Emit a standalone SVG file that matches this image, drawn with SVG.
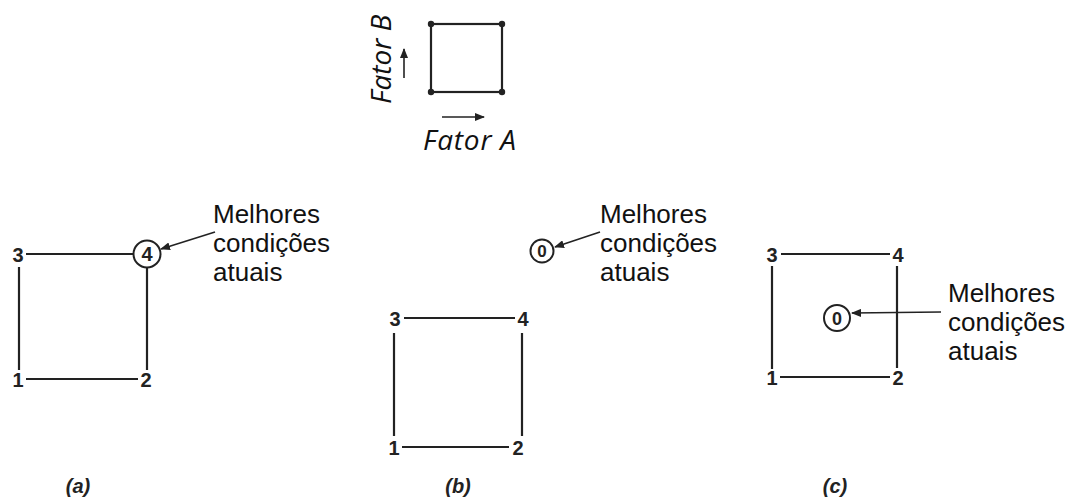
<svg xmlns="http://www.w3.org/2000/svg" width="1082" height="498" viewBox="0 0 1082 498">
<style>
.ln{stroke:#222;stroke-width:2.2;fill:none}
.thin{stroke:#222;stroke-width:1.6;fill:none}
.num{font-family:"Liberation Sans",Arial,sans-serif;font-weight:bold;font-size:20px;fill:#222;text-anchor:middle}
.lab{font-family:"Liberation Sans",Arial,sans-serif;font-size:26px;fill:#111}
.fat{font-family:"Open Sans","DejaVu Sans",sans-serif;font-style:italic;font-size:28px;fill:#111}
.cap{font-family:"Liberation Sans",Arial,sans-serif;font-weight:bold;font-style:italic;font-size:20px;fill:#222;text-anchor:middle}
.circ{stroke:#222;stroke-width:2;fill:#fff}
</style>
<defs>
<marker id="ah" markerWidth="10" markerHeight="8" refX="9" refY="4" orient="auto" markerUnits="userSpaceOnUse">
<path d="M0,0 L10,4 L0,8 z" fill="#222"/>
</marker>
</defs>
<rect width="1082" height="498" fill="#fff"/>

<g id="legend">
<rect x="431" y="24" width="71" height="68" class="ln"/>
<circle cx="431" cy="24" r="3.2" fill="#222"/>
<circle cx="502" cy="24" r="3.2" fill="#222"/>
<circle cx="431" cy="92" r="3.2" fill="#222"/>
<circle cx="502" cy="92" r="3.2" fill="#222"/>
<text class="fat" transform="translate(391,104) rotate(-90)">Fator B</text>
<text class="fat" x="423" y="150" textLength="93">Fator A</text>
</g>

<g id="panel-a">
<text class="num" x="18" y="262">3</text>
<text class="num" x="18" y="387">1</text>
<text class="num" x="146" y="387">2</text>
<circle class="circ" cx="147" cy="254" r="13.5"/>
<text class="num" x="147" y="261">4</text>
<text class="lab" x="213" y="223">Melhores</text>
<text class="lab" x="213" y="252">condições</text>
<text class="lab" x="213" y="281">atuais</text>
<text class="cap" x="78" y="493">(a)</text>
</g>

<g id="panel-b">
<text class="num" x="395" y="326">3</text>
<text class="num" x="523" y="326">4</text>
<text class="num" x="394" y="455">1</text>
<text class="num" x="518" y="455">2</text>
<circle class="circ" cx="542" cy="251" r="11.5"/>
<text class="num" x="542" y="257" style="font-size:17px">0</text>
<text class="lab" x="600" y="223">Melhores</text>
<text class="lab" x="600" y="252">condições</text>
<text class="lab" x="600" y="281">atuais</text>
<text class="cap" x="458" y="493">(b)</text>
</g>

<g id="panel-c">
<text class="num" x="772" y="262">3</text>
<text class="num" x="898" y="262">4</text>
<text class="num" x="772" y="385">1</text>
<text class="num" x="898" y="385">2</text>
<circle class="circ" cx="837" cy="318" r="13"/>
<text class="num" x="837" y="324.5" style="font-size:18px">0</text>
<text class="lab" x="948" y="302">Melhores</text>
<text class="lab" x="948" y="331">condições</text>
<text class="lab" x="948" y="360">atuais</text>
<text class="cap" x="835" y="493">(c)</text>
</g>

<g id="connectors">
<line class="thin" x1="404" y1="78" x2="404" y2="49" marker-end="url(#ah)"/>
<line class="thin" x1="442" y1="117" x2="484" y2="117" marker-end="url(#ah)"/>
<line class="ln" x1="26" y1="254" x2="133" y2="254"/>
<line class="ln" x1="19" y1="267" x2="19" y2="370"/>
<line class="ln" x1="147" y1="268" x2="147" y2="370"/>
<line class="ln" x1="26" y1="379" x2="138" y2="379"/>
<line class="thin" x1="215" y1="232" x2="161" y2="249" marker-end="url(#ah)"/>
<line class="ln" x1="404" y1="318" x2="515" y2="318"/>
<line class="ln" x1="394" y1="333" x2="394" y2="436"/>
<line class="ln" x1="522" y1="333" x2="522" y2="436"/>
<line class="ln" x1="402" y1="447" x2="509" y2="447"/>
<line class="thin" x1="600" y1="232" x2="555" y2="247" marker-end="url(#ah)"/>
<line class="ln" x1="781" y1="254" x2="890" y2="254"/>
<line class="ln" x1="772" y1="266" x2="772" y2="369"/>
<line class="ln" x1="897" y1="266" x2="897" y2="368"/>
<line class="ln" x1="780" y1="377" x2="890" y2="377"/>
<line class="thin" x1="941" y1="312" x2="852" y2="313" marker-end="url(#ah)"/>
</g>
</svg>
